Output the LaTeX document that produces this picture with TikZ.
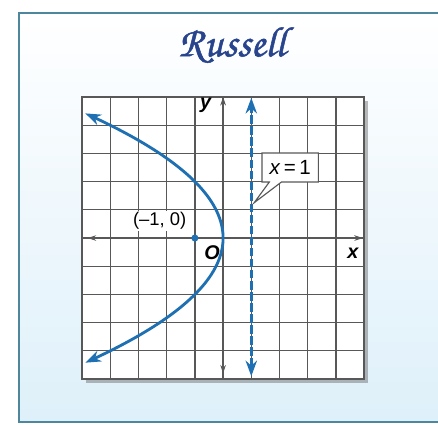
\documentclass[tikz,border=0pt]{standalone}
\usepackage{fontspec}
\setmainfont{Liberation Sans}
\newfontfamily\titlefont[FakeBold=1.2]{TeX Gyre Chorus}
\usetikzlibrary{arrows.meta,shadows,shapes.callouts,positioning}
\definecolor{curveblue}{RGB}{30,112,178}
\definecolor{gridgray}{RGB}{88,88,88}
\definecolor{framecol}{RGB}{78,135,155}
\definecolor{bgblue}{RGB}{222,240,250}
\definecolor{titleblue}{RGB}{40,68,140}

\begin{document}
\begin{tikzpicture}[x=0.7cm, y=0.7cm,
  gridline/.style={draw=gridgray, line width=0.9pt},
  axis/.style={{Stealth[length=6pt,width=4pt]}-{Stealth[length=6pt,width=4pt]}, draw=gridgray, line width=0.7pt},
  curve/.style={{Stealth[length=11pt,width=8pt]}-{Stealth[length=11pt,width=8pt]}, draw=curveblue, line width=2pt},
  directrix/.style={{Stealth[length=11pt,width=8pt]}-{Stealth[length=11pt,width=8pt]}, draw=curveblue, line width=2.4pt, dash pattern=on 6pt off 1.8pt},
  lbl/.style={font=\fontsize{13}{15}\selectfont, inner sep=1pt},
  axlbl/.style={font=\bfseries\itshape\fontsize{14}{15}\selectfont, inner sep=1pt},
  dot/.style={circle, fill=curveblue, inner sep=0pt, minimum size=5pt},
  eqbox/.style={rectangle callout, draw=gridgray, fill=white, line width=0.8pt, minimum width=1.4cm, minimum height=0.72cm, inner xsep=2pt, callout pointer width=0.3cm, font=\fontsize{14.5}{16}\selectfont},
  title/.style={font=\titlefont\fontsize{30}{32}\selectfont, text=titleblue}]
\useasboundingbox (-7.91,-6.60) rectangle (7.62,8.44);
% card background and frame
\fill[top color=white, bottom color=bgblue] (-7.23,-6.52) rectangle (9,7.98);
\draw[framecol, line width=1.5pt] (9,7.98) -- (-7.23,7.98) -- (-7.23,-6.52) -- (9,-6.52);
\node[title] (name) at (0.32,6.84) {Russell};
% grid
\fill[white, drop shadow={shadow xshift=0.1cm, shadow yshift=-0.1cm, fill=black!60, opacity=0.45}] (-5,-5) rectangle (5,5);
\foreach \i in {-4,...,4} {
  \draw[gridline] (\i,-5) -- (\i,5);
  \draw[gridline] (-5,\i) -- (5,\i);
}
\draw[gridline, line width=1.4pt] (-5,-5) rectangle (5,5);
% axes
\coordinate (xl) at (-4.8,0); \coordinate (xr) at (4.95,0);
\coordinate (yb) at (0,-4.8); \coordinate (yt) at (0,5);
\draw[axis] (xl) -- (xr); \draw[axis] (yb) -- (yt);
\node[axlbl] (xlab) at (4.6,-0.55) {x};
\node[axlbl] (ylab) at (-0.62,4.7) {y};
\node[axlbl] (orig) at (-0.39,-0.52) {O};
% directrix and parabola
\coordinate (dt) at (1,4.97); \coordinate (db) at (1,-4.9);
\draw[directrix] (db) -- (dt);
\draw[curve] plot[domain=4.42:-4.42, samples=80] ({-\x*\x/4},\x);
\node[dot] (focus) at (-1,0) {};
\node[lbl, fill=white] (flab) at (-2.25,0.62) {(--1, 0)};
\coordinate (tip) at (1.1,1.25);
\node[eqbox, callout absolute pointer={(tip)}] (eq) at (2.38,2.5) {\textit{x}\,=\,1};
\end{tikzpicture}
\end{document}
